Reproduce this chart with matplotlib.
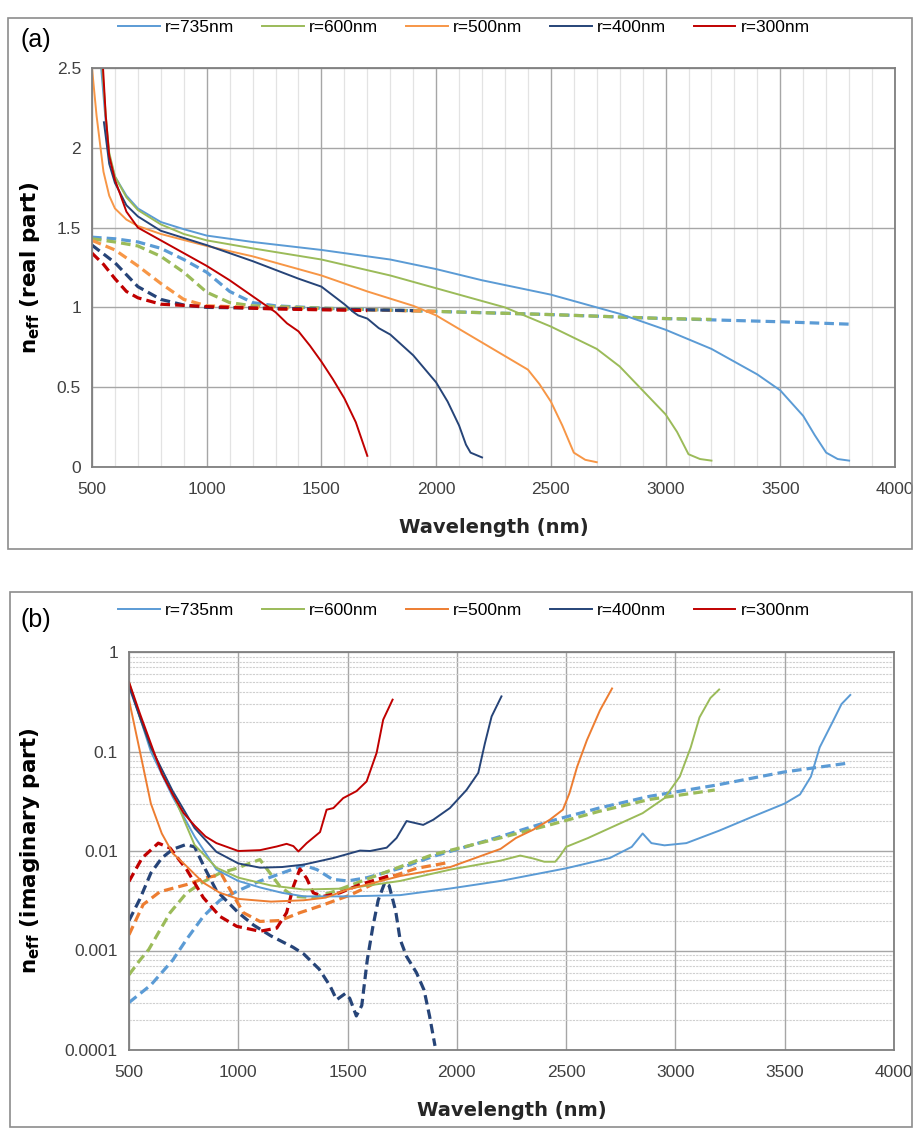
import matplotlib
matplotlib.use("Agg")
import matplotlib.pyplot as plt
from matplotlib.patches import Rectangle
from matplotlib.ticker import MultipleLocator, LogLocator, FixedLocator

plt.rcParams['font.family'] = ['Liberation Sans', 'DejaVu Sans']

labels = ['r=735nm', 'r=600nm', 'r=500nm', 'r=400nm', 'r=300nm']
colors_a = ['#5B9BD5', '#9BBB59', '#F79646', '#264478', '#C00000']
colors_b = ['#5B9BD5', '#9BBB59', '#ED7D31', '#264478', '#C00000']

# ---- (a) real part, solid lines
wl_a_735 = [540, 560, 575, 600, 650, 700, 800, 900, 1000, 1200, 1500, 1800, 2000, 2200, 2500, 2700, 2800, 3000, 3200, 3400, 3500, 3600, 3650, 3700, 3750, 3800]
re_735 = [2.5, 2.16, 1.95, 1.82, 1.70, 1.62, 1.535, 1.49, 1.45, 1.41, 1.36, 1.30, 1.24, 1.17, 1.08, 1.00, 0.96, 0.86, 0.74, 0.58, 0.48, 0.32, 0.2, 0.09, 0.05, 0.04]
wl_a_600 = [545, 560, 575, 600, 650, 700, 800, 900, 1000, 1200, 1500, 1800, 2000, 2200, 2300, 2500, 2700, 2800, 2900, 3000, 3050, 3100, 3150, 3200]
re_600 = [2.5, 2.2, 1.97, 1.82, 1.69, 1.61, 1.52, 1.46, 1.42, 1.37, 1.30, 1.20, 1.12, 1.04, 1.0, 0.88, 0.74, 0.63, 0.48, 0.33, 0.22, 0.08, 0.05, 0.04]
wl_a_500 = [500, 520, 550, 575, 600, 650, 700, 800, 1000, 1200, 1500, 1700, 1900, 2000, 2200, 2400, 2450, 2500, 2550, 2600, 2650, 2700]
re_500 = [2.5, 2.2, 1.85, 1.70, 1.62, 1.55, 1.51, 1.46, 1.385, 1.32, 1.20, 1.10, 1.01, 0.95, 0.78, 0.61, 0.52, 0.41, 0.26, 0.09, 0.045, 0.03]
wl_a_400 = [552, 575, 600, 650, 700, 800, 1000, 1200, 1400, 1500, 1600, 1640, 1660, 1700, 1750, 1800, 1900, 2000, 2050, 2100, 2130, 2150, 2200]
re_400 = [2.16, 1.9, 1.78, 1.64, 1.57, 1.48, 1.39, 1.29, 1.18, 1.13, 1.02, 0.97, 0.95, 0.93, 0.87, 0.83, 0.70, 0.53, 0.41, 0.26, 0.14, 0.09, 0.06]
wl_a_300 = [548, 560, 575, 600, 650, 700, 800, 900, 1000, 1100, 1200, 1270, 1300, 1350, 1400, 1450, 1500, 1550, 1600, 1650, 1700]
re_300 = [2.5, 2.2, 1.95, 1.80, 1.60, 1.50, 1.42, 1.34, 1.26, 1.17, 1.07, 1.0, 0.97, 0.90, 0.85, 0.76, 0.66, 0.55, 0.43, 0.28, 0.07]

# ---- (a) real part, dashed lines
wl_ad_735 = [500, 600, 700, 800, 900, 1000, 1100, 1200, 1300, 1500, 2000, 2500, 3000, 3500, 3800]
red_735 = [1.44, 1.43, 1.41, 1.37, 1.30, 1.22, 1.10, 1.03, 1.01, 0.995, 0.975, 0.955, 0.93, 0.91, 0.895]
wl_ad_600 = [500, 600, 700, 800, 900, 1000, 1100, 1200, 1500, 2000, 2500, 3000, 3200]
red_600 = [1.43, 1.41, 1.385, 1.32, 1.22, 1.095, 1.03, 1.01, 0.995, 0.975, 0.955, 0.93, 0.925]
wl_ad_500 = [500, 600, 700, 800, 900, 1000, 1200, 1500, 2000]
red_500 = [1.42, 1.36, 1.26, 1.15, 1.05, 1.01, 1.0, 0.99, 0.975]
wl_ad_400 = [500, 600, 700, 800, 900, 1000, 1500, 1900]
red_400 = [1.39, 1.28, 1.13, 1.05, 1.015, 1.0, 0.99, 0.98]
wl_ad_300 = [500, 550, 600, 650, 700, 800, 1000, 1300, 1700]
red_300 = [1.34, 1.27, 1.18, 1.10, 1.06, 1.02, 1.005, 0.99, 0.98]

# ---- (b) imaginary part, solid lines
wl_b_735 = [500, 550, 600, 700, 800, 900, 1000, 1100, 1200, 1300, 1500, 1740, 1970, 2200, 2500, 2700, 2800, 2850, 2890, 2950, 3050, 3200, 3350, 3500, 3570, 3620, 3660, 3720, 3760, 3800]
im_735 = [0.48, 0.22, 0.1, 0.035, 0.014, 0.0065, 0.0050, 0.0043, 0.0038, 0.0035, 0.0035, 0.0036, 0.0042, 0.0050, 0.0067, 0.0085, 0.011, 0.015, 0.012, 0.0114, 0.012, 0.016, 0.022, 0.030, 0.037, 0.056, 0.11, 0.2, 0.3, 0.37]
wl_b_600 = [500, 550, 600, 700, 800, 900, 1000, 1150, 1300, 1500, 1740, 1970, 2200, 2290, 2350, 2400, 2450, 2470, 2500, 2600, 2700, 2850, 2950, 3020, 3070, 3110, 3160, 3200]
im_600 = [0.5, 0.22, 0.11, 0.038, 0.0115, 0.0068, 0.0054, 0.0045, 0.0041, 0.0042, 0.0050, 0.0065, 0.0080, 0.0090, 0.0084, 0.0078, 0.0078, 0.0088, 0.011, 0.0135, 0.017, 0.024, 0.034, 0.056, 0.11, 0.22, 0.345, 0.42]
wl_b_500 = [500, 550, 600, 650, 700, 764, 840, 916, 1000, 1150, 1300, 1400, 1500, 1740, 1970, 2200, 2270, 2350, 2425, 2485, 2515, 2550, 2595, 2655, 2710]
im_500 = [0.33, 0.1, 0.03, 0.015, 0.0095, 0.0070, 0.0048, 0.0038, 0.0033, 0.0031, 0.0032, 0.0034, 0.0041, 0.0056, 0.0069, 0.0105, 0.0135, 0.0164, 0.0206, 0.026, 0.038, 0.07, 0.13, 0.26, 0.43]
wl_b_400 = [500, 550, 600, 700, 800, 900, 1000, 1100, 1200, 1300, 1435, 1557, 1603, 1679, 1724, 1770, 1846, 1892, 1968, 2044, 2098, 2128, 2159, 2204]
im_400 = [0.45, 0.22, 0.11, 0.04, 0.017, 0.0098, 0.0075, 0.0068, 0.0069, 0.0073, 0.0085, 0.0101, 0.0100, 0.0108, 0.0135, 0.020, 0.0183, 0.0206, 0.027, 0.041, 0.061, 0.12, 0.225, 0.358]
wl_b_300 = [500, 550, 600, 650, 700, 750, 800, 850, 900, 1000, 1100, 1176, 1221, 1252, 1275, 1313, 1374, 1404, 1435, 1480, 1541, 1587, 1633, 1663, 1706]
im_300 = [0.5, 0.24, 0.12, 0.06, 0.037, 0.024, 0.018, 0.014, 0.012, 0.010, 0.0102, 0.0111, 0.0118, 0.0112, 0.0099, 0.012, 0.0155, 0.026, 0.027, 0.034, 0.040, 0.050, 0.097, 0.209, 0.332]

# ---- (b) imaginary part, dashed lines
wl_bd_735 = [500, 600, 700, 764, 840, 916, 1000, 1100, 1200, 1300, 1360, 1430, 1500, 1590, 1740, 1890, 2040, 2200, 2425, 2650, 2883, 3188, 3493, 3800]
imd_735 = [0.0003, 0.00045, 0.0008, 0.0013, 0.0022, 0.0032, 0.0040, 0.0050, 0.0060, 0.0072, 0.0065, 0.0052, 0.0050, 0.0054, 0.0067, 0.0088, 0.011, 0.014, 0.0199, 0.027, 0.0355, 0.046, 0.062, 0.077]
wl_bd_600 = [500, 550, 590, 688, 764, 840, 916, 993, 1050, 1099, 1145, 1191, 1252, 1343, 1435, 1663, 1890, 2197, 2425, 2650, 2883, 3180]
imd_600 = [0.00057, 0.0008, 0.00102, 0.0024, 0.0038, 0.0049, 0.0060, 0.0067, 0.0075, 0.0082, 0.006, 0.0044, 0.0035, 0.0034, 0.0039, 0.0060, 0.0092, 0.0135, 0.0183, 0.025, 0.033, 0.041]
wl_bd_500 = [500, 565, 642, 764, 855, 924, 962, 1023, 1099, 1191, 1282, 1374, 1511, 1663, 1816, 1953]
imd_500 = [0.00144, 0.0029, 0.0039, 0.0046, 0.0054, 0.0058, 0.0041, 0.0024, 0.00196, 0.0020, 0.0024, 0.0028, 0.0036, 0.0052, 0.0067, 0.0076]
wl_bd_400 = [500, 550, 600, 650, 700, 760, 800, 850, 900, 1000, 1070, 1150, 1250, 1300, 1370, 1420, 1450, 1490, 1510, 1540, 1565, 1590, 1615, 1640, 1670, 1690, 1720, 1740, 1770, 1815, 1850, 1875, 1900]
imd_400 = [0.0020, 0.0033, 0.006, 0.0085, 0.0104, 0.0116, 0.011, 0.0065, 0.0040, 0.0024, 0.0018, 0.0014, 0.00108, 0.00092, 0.00065, 0.00044, 0.00032, 0.00037, 0.00033, 0.00022, 0.00028, 0.0008, 0.0017, 0.0032, 0.0048, 0.0045, 0.0025, 0.0013, 0.00087, 0.0006, 0.0004, 0.00022, 0.00011]
wl_bd_300 = [500, 560, 634, 688, 764, 840, 916, 993, 1099, 1176, 1221, 1252, 1282, 1313, 1343, 1389, 1465, 1557, 1663, 1709]
imd_300 = [0.00495, 0.0085, 0.012, 0.0107, 0.0065, 0.0034, 0.0022, 0.00175, 0.00156, 0.00168, 0.0024, 0.0044, 0.0066, 0.0053, 0.0038, 0.0035, 0.0038, 0.0046, 0.0054, 0.0058]

xticks = [500, 1000, 1500, 2000, 2500, 3000, 3500, 4000]

solid_a = [(wl_a_735, re_735), (wl_a_600, re_600), (wl_a_500, re_500), (wl_a_400, re_400), (wl_a_300, re_300)]
dash_a = [(wl_ad_735, red_735), (wl_ad_600, red_600), (wl_ad_500, red_500), (wl_ad_400, red_400), (wl_ad_300, red_300)]
solid_b = [(wl_b_735, im_735), (wl_b_600, im_600), (wl_b_500, im_500), (wl_b_400, im_400), (wl_b_300, im_300)]
dash_b = [(wl_bd_735, imd_735), (wl_bd_600, imd_600), (wl_bd_500, imd_500), (wl_bd_400, imd_400), (wl_bd_300, imd_300)]

W, H = 913, 1128
fig = plt.figure(figsize=(W / 100, H / 100), dpi=100)

# chart-area frames
for (x0, y0, x1, y1) in [(8, 18, 912, 549), (10, 592, 912, 1127)]:
    fig.patches.append(Rectangle((x0 / W, 1 - y1 / H), (x1 - x0) / W, (y1 - y0) / H,
                                 transform=fig.transFigure, fill=False,
                                 edgecolor='#8c8c8c', linewidth=1.2))

ax1 = fig.add_axes([92 / W, 1 - 467 / H, (895 - 92) / W, (467 - 68) / H])
ax2 = fig.add_axes([129 / W, 1 - 1050 / H, (894 - 129) / W, (1050 - 652) / H])

dash_style = (0, (3.0, 1.6))

for (x, y), c in zip(dash_a, colors_a):
    ax1.plot(x, y, color=c, lw=2.3, linestyle=dash_style)
for (x, y), c, lab in zip(solid_a, colors_a, labels):
    ax1.plot(x, y, color=c, lw=1.4, label=lab)

for (x, y), c in zip(dash_b, colors_b):
    ax2.plot(x, y, color=c, lw=2.3, linestyle=dash_style)
for (x, y), c, lab in zip(solid_b, colors_b, labels):
    ax2.plot(x, y, color=c, lw=1.4, label=lab)

# axes (a)
ax1.set_xlim(500, 4000)
ax1.set_ylim(0, 2.5)
ax1.xaxis.set_major_locator(FixedLocator(xticks))
ax1.xaxis.set_minor_locator(MultipleLocator(100))
ax1.set_yticks([0, 0.5, 1, 1.5, 2, 2.5])
ax1.set_yticklabels(['0', '0.5', '1', '1.5', '2', '2.5'])
ax1.grid(which='major', color='#a6a6a6', lw=1.0)
ax1.grid(which='minor', axis='x', color='#e3e3e3', lw=0.9)

# axes (b)
ax2.set_yscale('log')
ax2.set_xlim(500, 4000)
ax2.set_ylim(1e-4, 1)
ax2.xaxis.set_major_locator(FixedLocator(xticks))
ax2.yaxis.set_minor_locator(LogLocator(base=10, subs=range(2, 10), numticks=50))
ax2.set_yticks([1e-4, 1e-3, 1e-2, 1e-1, 1])
ax2.set_yticklabels(['0.0001', '0.001', '0.01', '0.1', '1'])
ax2.grid(which='major', color='#a6a6a6', lw=1.0)
ax2.grid(which='minor', axis='y', color='#cfcfcf', lw=0.8, linestyle=(0, (2, 1)))

for ax in (ax1, ax2):
    ax.set_axisbelow(True)
    ax.set_xticklabels([str(v) for v in xticks])
    ax.tick_params(which='both', length=0, labelsize=12.5, colors='#404040', pad=8)
    ax.tick_params(axis='x', pad=11)
    for s in ax.spines.values():
        s.set_color('#7f7f7f')
        s.set_linewidth(1.3)
    ax.set_xlabel('Wavelength (nm)', fontsize=14, fontweight='bold', color='#262626',
                  family=['DejaVu Sans'], labelpad=15)

ax1.set_ylabel(r'$\mathbf{n_{eff}}$ (real part)', fontsize=15.5, fontweight='bold',
               family=['DejaVu Sans'])
ax2.set_ylabel(r'$\mathbf{n_{eff}}$ (imaginary part)', fontsize=15.5, fontweight='bold',
               family=['DejaVu Sans'])
ax1.yaxis.set_label_coords(-50 / 803, 0.5)
ax2.yaxis.set_label_coords(-87 / 765, 0.5)

fig.text(20 / W, 1 - 40 / H, '(a)', fontsize=18, va='center', ha='left')
fig.text(20 / W, 1 - 620 / H, '(b)', fontsize=18, va='center', ha='left')

for ax, y in ((ax1, 27), (ax2, 610)):
    fig.legend(*ax.get_legend_handles_labels(), loc='center', ncol=5,
               bbox_to_anchor=(464 / W, 1 - y / H), frameon=False,
               fontsize=12.5, handlelength=2.4, handletextpad=0.3, columnspacing=1.6)

fig.savefig('out.png', dpi=100)
